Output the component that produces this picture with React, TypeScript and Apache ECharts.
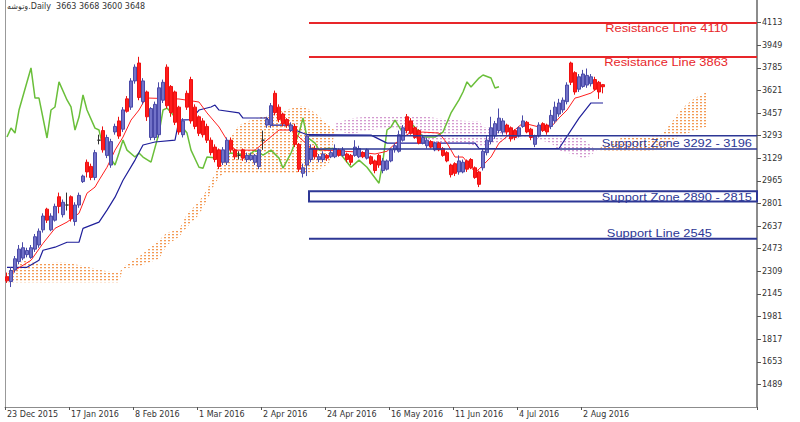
import React, { useEffect, useRef } from 'react';
import * as echarts from 'echarts';

// ---------- data ----------
const tickLabels = ['23 Dec 2015', '17 Jan 2016', '8 Feb 2016', '1 Mar 2016', '2 Apr 2016', '24 Apr 2016', '16 May 2016', '11 Jun 2016', '4 Jul 2016', '2 Aug 2016'];
const barsPerTick = 16;
const slotCount = 188;

const opens = [2270, 2235, 2320, 2380, 2405, 2430, 2410, 2470, 2500, 2610, 2760, 2610, 2680, 2850, 2720, 2790, 2850, 2670, 2790, 2960, 3100, 3070, 2990, 3260, 3330, 3150, 3080, 3320, 3400, 3340, 3560, 3500, 3690, 3820, 3540, 3610, 3280, 3280, 3300, 3550, 3790, 3650, 3610, 3500, 3300, 3600, 3700, 3500, 3430, 3400, 3360, 3260, 3210, 3190, 3100, 3100, 3260, 3190, 3150, 3190, 3120, 3120, 3100, 3070, 3260, 3370, 3370, 3600, 3500, 3450, 3410, 3330, 3360, 3230, 3020, 3080, 3120, 3200, 3120, 3120, 3150, 3140, 3140, 3190, 3150, 3160, 3150, 3150, 3140, 3170, 3130, 3140, 3110, 3150, 3040, 3050, 3110, 3190, 3180, 3260, 3430, 3400, 3350, 3330, 3240, 3220, 3250, 3190, 3240, 3200, 3170, 3080, 3090, 3030, 3030, 3110, 3120, 3060, 3030, 3060, 3170, 3250, 3290, 3330, 3320, 3370, 3350, 3330, 3290, 3360, 3390, 3340, 3230, 3290, 3380, 3370, 3360, 3400, 3450, 3480, 3540, 3820, 3750, 3630, 3650, 3660, 3670, 3700, 3680, 3663];
const closes = [2240, 2315, 2400, 2470, 2480, 2460, 2480, 2560, 2600, 2710, 2680, 2710, 2780, 2780, 2810, 2790, 2690, 2790, 2860, 3000, 3030, 2990, 3170, 3260, 3190, 3280, 3250, 3360, 3290, 3480, 3470, 3690, 3790, 3570, 3690, 3430, 3490, 3520, 3640, 3680, 3510, 3460, 3390, 3320, 3400, 3500, 3400, 3360, 3310, 3300, 3260, 3170, 3120, 3070, 3190, 3260, 3190, 3140, 3150, 3130, 3150, 3150, 3150, 3190, 3260, 3410, 3510, 3460, 3410, 3380, 3370, 3370, 3230, 3050, 3060, 3290, 3200, 3140, 3140, 3160, 3130, 3170, 3200, 3150, 3190, 3120, 3100, 3210, 3200, 3140, 3190, 3090, 3040, 3080, 3110, 3110, 3190, 3220, 3300, 3350, 3330, 3310, 3280, 3240, 3280, 3260, 3210, 3240, 3190, 3150, 3110, 3010, 3020, 3110, 3100, 3050, 3060, 2990, 2940, 3180, 3260, 3350, 3380, 3420, 3400, 3320, 3270, 3280, 3350, 3400, 3320, 3280, 3290, 3370, 3330, 3320, 3440, 3500, 3530, 3550, 3660, 3680, 3610, 3720, 3740, 3730, 3720, 3630, 3610, 3648];
const highs = [2300, 2340, 2420, 2500, 2520, 2480, 2500, 2580, 2620, 2730, 2770, 2730, 2800, 2880, 2830, 2880, 2860, 2810, 2880, 3010, 3120, 3090, 3190, 3300, 3360, 3300, 3270, 3380, 3430, 3500, 3580, 3710, 3810, 3865, 3710, 3620, 3500, 3540, 3680, 3700, 3810, 3660, 3620, 3510, 3420, 3620, 3720, 3520, 3440, 3420, 3380, 3280, 3230, 3200, 3210, 3280, 3280, 3200, 3180, 3200, 3170, 3170, 3160, 3200, 3330, 3430, 3530, 3620, 3520, 3460, 3420, 3390, 3380, 3240, 3090, 3310, 3230, 3220, 3160, 3180, 3160, 3190, 3230, 3200, 3210, 3170, 3160, 3260, 3220, 3180, 3200, 3150, 3120, 3160, 3130, 3120, 3200, 3240, 3330, 3370, 3450, 3420, 3360, 3340, 3300, 3280, 3260, 3250, 3250, 3210, 3180, 3090, 3100, 3150, 3120, 3120, 3130, 3070, 3040, 3200, 3290, 3430, 3400, 3490, 3420, 3380, 3360, 3340, 3360, 3440, 3400, 3350, 3300, 3390, 3390, 3380, 3480, 3540, 3560, 3570, 3680, 3830, 3760, 3740, 3770, 3780, 3740, 3720, 3690, 3668];
const lows = [2225, 2195, 2300, 2360, 2390, 2410, 2400, 2450, 2480, 2590, 2660, 2600, 2670, 2730, 2700, 2750, 2670, 2640, 2770, 2950, 2990, 2970, 2970, 3230, 3170, 3130, 3060, 3300, 3270, 3320, 3460, 3480, 3670, 3550, 3520, 3400, 3260, 3260, 3280, 3530, 3490, 3430, 3370, 3300, 3280, 3480, 3380, 3340, 3290, 3280, 3240, 3150, 3100, 3050, 3080, 3080, 3170, 3120, 3120, 3110, 3100, 3110, 3080, 3050, 3190, 3350, 3350, 3440, 3390, 3360, 3350, 3320, 3210, 3030, 2990, 3000, 3100, 3120, 3100, 3100, 3110, 3130, 3130, 3140, 3140, 3100, 3080, 3140, 3130, 3130, 3120, 3080, 3020, 3060, 3020, 3040, 3100, 3170, 3170, 3250, 3310, 3300, 3270, 3230, 3230, 3200, 3200, 3180, 3180, 3140, 3100, 2990, 3000, 3010, 3020, 3030, 3050, 2980, 2920, 3040, 3150, 3230, 3270, 3310, 3300, 3300, 3250, 3260, 3280, 3350, 3310, 3260, 3210, 3280, 3320, 3300, 3340, 3380, 3430, 3460, 3520, 3660, 3590, 3610, 3640, 3640, 3650, 3620, 3560, 3600];

const tenkan = [[0, 2250], [2, 2317], [6, 2389], [9, 2512], [12, 2621], [15, 2666], [18, 2730], [20, 2876], [22, 2920], [23, 2970], [25, 3064], [27, 3188], [29, 3283], [31, 3406], [33, 3479], [34, 3530], [35, 3566], [43, 3559], [48, 3537], [50, 3458], [53, 3356], [55, 3261], [57, 3188], [62, 3188], [65, 3261], [68, 3334], [71, 3334], [73, 3283], [76, 3203], [79, 3188], [88, 3174], [92, 3160], [95, 3180], [98, 3261], [101, 3319], [104, 3319], [108, 3312], [110, 3239], [112, 3138], [114, 3138], [116, 3065], [117, 3028], [118, 3050], [121, 3138], [123, 3239], [126, 3312], [129, 3385], [133, 3356], [136, 3356], [138, 3421], [140, 3479], [142, 3566], [143, 3573], [146, 3602], [148, 3646], [149, 3650]];
const kijun = [[0, 2338], [5, 2338], [8, 2389], [9, 2462], [12, 2484], [15, 2520], [18, 2520], [19, 2621], [23, 2666], [25, 2753], [27, 2847], [29, 2970], [32, 3116], [34, 3225], [37, 3247], [42, 3261], [43, 3406], [46, 3410], [48, 3479], [51, 3501], [52, 3515], [53, 3479], [58, 3458], [59, 3421], [65, 3421], [66, 3370], [71, 3370], [72, 3334], [75, 3300], [91, 3297], [95, 3239], [117, 3239], [118, 3200], [138, 3200], [143, 3420], [146, 3530], [149, 3530]];
const chikou = [[0, 3283], [1, 3348], [2, 3312], [3, 3479], [6, 3784], [7, 3566], [8, 3566], [10, 3276], [11, 3479], [12, 3501], [13, 3683], [15, 3552], [16, 3501], [17, 3334], [18, 3428], [19, 3588], [20, 3479], [22, 3348], [23, 3334], [24, 3210], [25, 3174], [27, 3080], [28, 3167], [29, 3261], [30, 3188], [32, 3138], [33, 3167], [34, 3138], [36, 3101], [38, 3312], [39, 3479], [40, 3493], [42, 3428], [44, 3348], [45, 3312], [46, 3188], [48, 3064], [49, 3057], [50, 3138], [53, 3130], [54, 3152], [56, 3167], [58, 3160], [60, 3138], [62, 3188], [64, 3152], [66, 3188], [68, 3130], [69, 3057], [71, 3167], [73, 3312], [74, 3421], [75, 3283], [77, 3239], [78, 3188], [80, 3200], [82, 3200], [84, 3138], [86, 3064], [88, 3116], [90, 3064], [93, 2948], [94, 3116], [95, 3334], [96, 3356], [97, 3406], [99, 3312], [101, 3385], [103, 3319], [104, 3283], [107, 3283], [109, 3319], [111, 3458], [113, 3552], [114, 3610], [115, 3683], [116, 3646], [118, 3711], [119, 3733], [121, 3711], [122, 3639], [123, 3648]];

const cloudIdx = [0, 4, 9, 14, 19, 24, 28, 29, 33, 38, 40, 43, 45, 48, 50, 52, 54, 56, 58, 61, 65, 70, 74, 77, 80, 81, 82, 86, 90, 94, 98, 101, 105, 110, 115, 118, 119, 124, 125, 131, 136, 138, 142, 144, 146, 147, 150, 155, 160, 164, 166, 169, 172, 175];
const spanA = [2300, 2385, 2367, 2375, 2350, 2315, 2295, 2340, 2415, 2535, 2590, 2610, 2725, 2815, 2900, 3021, 3150, 3283, 3370, 3406, 3440, 3482, 3510, 3460, 3380, 3350, 3330, 3305, 3330, 3345, 3340, 3280, 3243, 3233, 3233, 3215, 3215, 3250, 3270, 3277, 3239, 3188, 3152, 3125, 3150, 3180, 3235, 3292, 3278, 3310, 3385, 3497, 3566, 3610];
const spanB = [2229, 2229, 2229, 2229, 2229, 2229, 2229, 2330, 2345, 2400, 2500, 2560, 2630, 2720, 2825, 2950, 3021, 3021, 3021, 3021, 3021, 3021, 3021, 3030, 3082, 3112, 3380, 3420, 3430, 3430, 3430, 3430, 3430, 3410, 3400, 3400, 3355, 3355, 3305, 3305, 3300, 3300, 3300, 3270, 3220, 3190, 3185, 3185, 3185, 3190, 3250, 3300, 3330, 3360];

const resistanceLines = [4110, 3863];
const supportZones = [[3292, 3196], [2890, 2815]];
const supportLines = [2545];
const levelStart = 76;

const yMin = 1325;
const yMax = 4277;
const yStep = 164;
const title = 'وتوشه.Daily  3663 3668 3600 3648';

// ---------- helpers ----------
function dotPattern(color: string, soft: string): any {
  const c = document.createElement('canvas');
  c.width = 4;
  c.height = 3;
  const ctx = c.getContext('2d');
  if (ctx) {
    ctx.fillStyle = color;
    ctx.fillRect(0, 0, 2, 1);
    ctx.fillStyle = soft;
    ctx.fillRect(0, 1, 2, 1);
  }
  return { image: c.toDataURL(), repeat: 'repeat', imageWidth: 4, imageHeight: 3 };
}

export default function App() {
  const ref = useRef<HTMLDivElement>(null);

  useEffect(() => {
    if (!ref.current) return;
    const chart = echarts.init(ref.current, null, { renderer: 'svg' });

    const orangeDots = dotPattern('#f39a55', 'rgba(244,170,110,0.35)');
    const pinkDots = dotPattern('#d49ad0', 'rgba(220,170,215,0.35)');

    const slots = Array.from({ length: slotCount }, (_, i) => String(i));
    const showTick = (i: number) => i % barsPerTick === 0 && i / barsPerTick < tickLabels.length;

    const candleData = opens.map((o, i) => {
      const item: any = { value: [o, closes[i], lows[i], highs[i]] };
      if (o === closes[i]) item.itemStyle = { color: '#333', borderColor: '#333', borderColor0: '#333' };
      return item;
    });

    const cloudRender = (params: any, api: any) => {
      const children: any[] = [];
      const poly = (pts: number[][], up: boolean) => ({
        type: 'polygon',
        shape: { points: pts },
        style: { fill: up ? orangeDots : pinkDots, stroke: null },
        silent: true,
      });
      for (let k = 0; k < cloudIdx.length - 1; k++) {
        const pa0 = api.coord([cloudIdx[k], spanA[k]]);
        const pa1 = api.coord([cloudIdx[k + 1], spanA[k + 1]]);
        const pb0 = api.coord([cloudIdx[k], spanB[k]]);
        const pb1 = api.coord([cloudIdx[k + 1], spanB[k + 1]]);
        const d0 = spanA[k] - spanB[k];
        const d1 = spanA[k + 1] - spanB[k + 1];
        if (d0 * d1 < 0) {
          const t = d0 / (d0 - d1);
          const px = pa0[0] + (pa1[0] - pa0[0]) * t;
          const py = pa0[1] + (pa1[1] - pa0[1]) * t;
          children.push(poly([pa0, [px, py], pb0], d0 > 0));
          children.push(poly([[px, py], pa1, pb1], d1 > 0));
        } else {
          children.push(poly([pa0, pa1, pb1, pb0], d0 + d1 >= 0));
        }
      }
      return { type: 'group', children };
    };

    const red = '#e8262a';
    const navy = '#2d3795';
    const levelRender = (params: any, api: any) => {
      const cs = params.coordSys;
      const right = cs.x + cs.width;
      const half = api.size([1, 0])[0] / 2;
      const x0 = api.coord([levelStart, yMin])[0] - half;
      const yOf = (v: number) => api.coord([levelStart, v])[1];
      const children: any[] = [];
      const label = (text: string, x: number, y: number, color: string) => ({
        type: 'text',
        x,
        y,
        scaleX: 1.17,
        silent: true,
        style: { text, x: 0, y: 0, fill: color, fontSize: 11, fontFamily: 'Liberation Sans', align: 'right', verticalAlign: 'middle' },
      });
      resistanceLines.forEach((v) => {
        const y = yOf(v);
        children.push({ type: 'line', shape: { x1: x0, y1: y, x2: right, y2: y }, style: { stroke: red, lineWidth: 2 } });
        children.push(label(`Resistance Line ${v}`, right - 29, y + 5, red));
      });
      supportZones.forEach(([top, bottom], i) => {
        const yt = yOf(top);
        const yb = yOf(bottom);
        if (i === 0) {
          children.push({ type: 'line', shape: { x1: x0, y1: yt, x2: right, y2: yt }, style: { stroke: navy, lineWidth: 1.5 } });
          children.push({ type: 'line', shape: { x1: x0, y1: yb, x2: right, y2: yb }, style: { stroke: navy, lineWidth: 1.5 } });
        } else {
          children.push({ type: 'rect', shape: { x: x0, y: yt, width: right - x0, height: yb - yt }, style: { fill: null, stroke: navy, lineWidth: 2 } });
        }
        children.push(label(`Support Zone ${top} - ${bottom}`, right - 5, (yt + yb) / 2 + 0.5, navy));
      });
      supportLines.forEach((v) => {
        const y = yOf(v);
        children.push({ type: 'line', shape: { x1: x0, y1: y, x2: right, y2: y }, style: { stroke: navy, lineWidth: 2 } });
        children.push(label(`Support Line ${v}`, right - 45, y - 5, navy));
      });
      return { type: 'group', children };
    };

    const option: any = {
      animation: false,
      backgroundColor: '#ffffff',
      grid: { left: 5, right: 43, top: 0, bottom: 15, containLabel: false },
      xAxis: {
        type: 'category',
        data: slots,
        boundaryGap: true,
        axisLine: { show: true, lineStyle: { color: '#8c8c8c', width: 1 } },
        axisTick: { show: true, interval: (i: number) => showTick(i), length: 3, lineStyle: { color: '#555' } },
        axisLabel: {
          interval: (i: number) => showTick(i),
          align: 'left',
          margin: 3,
          fontSize: 8,
          color: '#333',
          fontFamily: 'DejaVu Sans',
          formatter: (_v: string, i: number) => (showTick(i) ? tickLabels[i / barsPerTick] : ''),
        },
        splitLine: { show: false },
      },
      yAxis: [
        {
          type: 'value',
          position: 'right',
          min: yMin,
          max: yMax,
          interval: yStep,
          axisLine: { show: true, lineStyle: { color: '#8c8c8c', width: 2 } },
          axisTick: { show: true, length: 4, lineStyle: { color: '#555' } },
          axisLabel: {
            showMinLabel: false,
            showMaxLabel: false,
            margin: 5,
            fontSize: 8,
            color: '#333',
            fontFamily: 'DejaVu Sans',
            formatter: (v: number) => String(v),
          },
          splitLine: { show: false },
        },
        {
          type: 'value',
          position: 'left',
          min: yMin,
          max: yMax,
          interval: yStep,
          axisLine: { show: true, lineStyle: { color: '#999', width: 1 } },
          axisTick: { show: false },
          axisLabel: { show: false },
          splitLine: { show: false },
        },
      ],
      graphic: [
        {
          type: 'text',
          left: 7,
          top: 2,
          silent: true,
          style: { text: title, fill: '#333', fontSize: 8, fontFamily: 'DejaVu Sans' },
        },
      ],
      series: [
        {
          type: 'custom',
          name: 'cloud',
          renderItem: cloudRender,
          data: [[0, spanA[0]]],
          z: 1,
          silent: true,
        },
        {
          type: 'line',
          name: 'chikou',
          data: chikou,
          showSymbol: false,
          lineStyle: { color: '#6abf3a', width: 1.5 },
          z: 2,
          silent: true,
        },
        {
          type: 'line',
          name: 'kijun',
          data: kijun,
          showSymbol: false,
          lineStyle: { color: '#1f1f9a', width: 1.2 },
          z: 3,
          silent: true,
        },
        {
          type: 'line',
          name: 'tenkan',
          data: tenkan,
          showSymbol: false,
          lineStyle: { color: '#ff1f1f', width: 1 },
          z: 3,
          silent: true,
        },
        {
          type: 'candlestick',
          name: 'price',
          data: candleData,
          barWidth: 3,
          itemStyle: {
            color: '#7272c8',
            color0: '#ff1c1c',
            borderColor: '#4a4aa8',
            borderColor0: '#ee1010',
            borderWidth: 1,
          },
          z: 4,
          silent: true,
        },
        {
          type: 'custom',
          name: 'levels',
          renderItem: levelRender,
          data: [[levelStart, resistanceLines[0]]],
          z: 5,
          silent: true,
        },
      ],
    };

    chart.setOption(option);
    return () => chart.dispose();
  }, []);

  return (
    <div
      ref={ref}
      style={{ position: 'fixed', left: 0, top: 0, width: 800, height: 422, background: '#fff' }}
    />
  );
}
